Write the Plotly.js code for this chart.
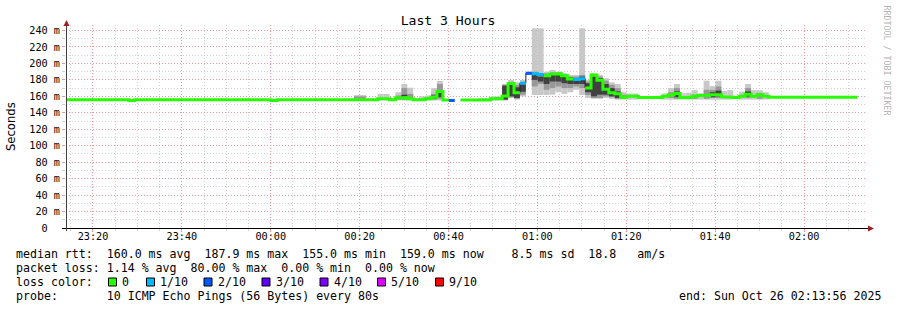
<!DOCTYPE html>
<html><head><meta charset="utf-8">
<script src="https://cdn.plot.ly/plotly-3.0.1.min.js"></script>
<style>html,body{margin:0;padding:0;background:#fff}#chart{width:897px;height:310px}</style>
</head><body><div id="chart"></div><script>
// ---- data (SmokePing, 80 s steps) ----
const firstStepStart = '2025-10-25 23:13:24';
const stepSeconds = 80;
const viewStart = '2025-10-25 23:13:56';
const viewEnd = '2025-10-26 02:13:56';

// median RTT per step (ms); null = no data
const median = [
  156,156,156,156,156,156,156,156,156,156,156,155,
  156,156,156,156,156,156,156,156,156,156,156,156,156,156,156,156,156,156,156,156,156,156,156,155,
  156,156,156,156,156,156,156,156,156,156,156,156,156,
  156,156,156,156,157,157,156,158,158.5,157,156,156,157,159,166,155.5,155,null,
  155.5,155.5,155.5,155.5,155.5,157,157,160.5,175.5,164.5,176,188,187.5,186.5,185,187,187.5,185,181,180.5,181.5,
  170,186,179.5,168.5,164.5,163,159,160,160,158.5,158.5,158.5,158.5,160,161.5,163.5,158.5,158.5,160,161,161,162,162,
  159.5,159,158.5,160,162.5,160,162,160,
  159,159,159,159,159,159,159,159,159,159,159,159,159,159,159,null,null
];
// lost pings (out of 10) per step
const lossTenths = median.map(() => 0);
const lossSteps = [65, 77, 78, 79, 80, 86, 87];
const lossValues = [2, 1, 2, 1, 1, 1, 1];
lossSteps.forEach((s, i) => { lossTenths[s] = lossValues[i]; });

// smoke (ping spread) per step: outer / middle / inner bands (ms)
const smokeSteps = [49,50,53,54,56,57,58,60,61,62,63,70,71,72,73,74,75,76,77,78,79,80,81,82,83,84,85,86,87,88,89,90,91,92,93,94,95,96,101,102,103,104,105,106,107,108,109,110,111,112,114,115,116,117,118];
const outerLo = [155,155,155,155,155,155,155,155,155,155,155,155,155,155,155,155,158,156,160,186,161.6,161.6,161.6,162,165,163,165,168,161.6,158,157,157,158,157,156,156,156,156,156,156,156,156,156,156,156,156,156,156,156,156,156,156,156,156,156];
const outerHi = [161.5,161.5,163,163,165,175,170.5,160,161,170,178.6,158,158,160,160,175,180,177,180,190,242.6,242.6,190,192,190,188,186,186,242.6,180,188,186,182,177,175,165,163.5,163.5,163.5,170,175,163.7,164.5,167.5,163.7,179,172.5,179,166.5,167.5,165.6,175,167.5,167.5,165];
const midLo = [157,157,155.5,155.5,156,156,156,null,156,156,157,null,null,155.5,156,155.5,159,157,162,187,172,175,168,170,172,170,170,172,170,161.6,158,158,160,159,157,157,null,null,null,158,157,null,null,157,null,157,158,158,null,null,null,158,null,157,null];
const midHi = [160,160,158,158,161,170,163,null,159,163,175,null,null,158,159,174,177,174,176,189,190,188,188,189,189,187,184,184,186,178,186,184,179,174,170,162,null,null,null,165,170,null,null,162,null,168,168,172,null,null,null,170,null,164,null];
const innerLo = [null,null,null,null,157,157,null,null,null,157,159,null,null,null,null,156,160,158,165.6,null,180,178,175,178,178,176,175,175,175,165,160,162,162,160,158,null,null,null,null,null,159,null,null,null,null,null,159,160,null,null,null,160,null,null,null];
const innerHi = [null,null,null,null,159,162,null,null,null,161,166,null,null,null,null,173,174,171,174.6,null,186,184,186,187,187,185,183,182,184,176,184,182,175,170,166,null,null,null,null,null,166,null,null,null,null,null,165,167,null,null,null,166,null,null,null];

const lossClasses = [0, 1, 2, 3, 4, 5, 9];
const lossLabels = ['0', '1/10', '2/10', '3/10', '4/10', '5/10', '9/10'];
const lossColors = ['#26ff00', '#00b8ff', '#0059ff', '#5e00ff', '#7e00ff', '#dd00ff', '#ff0000'];

const yTickVals = [0,20,40,60,80,100,120,140,160,180,200,220,240];
const yTickText = ['0\u00a0\u00a0','20 m','40 m','60 m','80 m','100 m','120 m','140 m','160 m','180 m','200 m','220 m','240 m'];

const titleText = 'Last 3 Hours';
const legendLines = [
  'median rtt:  160.0 ms avg  187.9 ms max  155.0 ms min  159.0 ms now    8.5 ms sd  18.8   am/s',
  'packet loss: 1.14 % avg  80.00 % max  0.00 % min  0.00 % now',
  'loss color:',
  'probe:       10 ICMP Echo Pings (56 Bytes) every 80s'
];
const endText = 'end: Sun Oct 26 02:13:56 2025';
const watermark = 'RRDTOOL / TOBI OETIKER';

// ---- build ----
const MONO = 'DejaVu Sans Mono';
const L = 66, R = 866, T = 25, B = 228;
const px2x = px => (px - L) / (R - L);
const px2y = py => (B - py) / (B - T);
const nb = s => s.replace(/ /g, '\u00a0');
const fmt = ms => new Date(ms).toISOString().slice(0, 19).replace('T', ' ');
const t0 = Date.parse(firstStepStart.replace(' ', 'T') + 'Z');
const stepMs = stepSeconds * 1000;
const stepStart = j => t0 + j * stepMs;

const traces = [];
function band(lo, hi, color) {
  const x = [], base = [], y = [];
  smokeSteps.forEach((s, i) => {
    if (lo[i] == null || hi[i] == null) return;
    x.push(fmt(stepStart(s) + stepMs / 2));
    base.push(lo[i]);
    y.push(hi[i] - lo[i]);
  });
  traces.push({type: 'bar', x, y, base, width: x.map(() => stepMs),
    marker: {color, line: {width: 0}}, hoverinfo: 'skip', showlegend: false});
}
band(outerLo, outerHi, '#c8c8c8');
band(midLo, midHi, '#989898');
band(innerLo, innerHi, '#404040');

// thin dark median step line (shows transitions)
{
  const x = median.map((_, j) => fmt(stepStart(j)));
  const y = median.slice();
  x.push(fmt(stepStart(median.length)));
  y.push(median[median.length - 1]);
  traces.push({type: 'scatter', mode: 'lines', x, y, line: {shape: 'hv', color: '#202020', width: 1},
    connectgaps: false, hoverinfo: 'skip', showlegend: false});
}
// coloured median per loss class
lossClasses.forEach((c, ci) => {
  const x = [], y = [];
  let prevSame = false;
  median.forEach((m, j) => {
    if (m != null && lossTenths[j] === c) {
      if (!prevSame && x.length) { x.push(null); y.push(null); }
      x.push(fmt(stepStart(j)), fmt(stepStart(j + 1)));
      y.push(m, m);
      prevSame = true;
    } else prevSame = false;
  });
  if (x.length) traces.push({type: 'scatter', mode: 'lines', x, y,
    line: {color: lossColors[ci], width: 3}, connectgaps: false, hoverinfo: 'skip', showlegend: false});
});

const shapes = [];
const annotations = [];
// axis lines & arrows
shapes.push({type: 'line', xref: 'paper', yref: 'paper', x0: px2x(62), x1: px2x(869), y0: px2y(228.5), y1: px2y(228.5), line: {color: '#000', width: 1}, layer: 'above'});
shapes.push({type: 'line', xref: 'paper', yref: 'paper', x0: px2x(66.5), x1: px2x(66.5), y0: px2y(231), y1: px2y(24), line: {color: '#404040', width: 1}, layer: 'above'});
shapes.push({type: 'path', xref: 'paper', yref: 'paper', layer: 'above', fillcolor: '#9b2020', line: {width: 0},
  path: `M ${px2x(63.5)} ${px2y(26)} L ${px2x(66.5)} ${px2y(20)} L ${px2x(69.5)} ${px2y(26)} Z`});
shapes.push({type: 'path', xref: 'paper', yref: 'paper', layer: 'above', fillcolor: '#9b2020', line: {width: 0},
  path: `M ${px2x(868)} ${px2y(225.5)} L ${px2x(874)} ${px2y(228.5)} L ${px2x(868)} ${px2y(231.5)} Z`});

// legend text
const lineY = [254, 268, 282, 296];
legendLines.forEach((t, i) => annotations.push({xref: 'paper', yref: 'paper', x: px2x(16), y: px2y(lineY[i]),
  xanchor: 'left', yanchor: 'middle', text: nb(t), showarrow: false, borderpad: 0, borderwidth: 0,
  font: {family: MONO, size: 11.6, color: '#000'}}));
annotations.push({xref: 'paper', yref: 'paper', x: px2x(881), y: px2y(296), xanchor: 'right', yanchor: 'middle',
  text: nb(endText), showarrow: false, borderpad: 0, borderwidth: 0, font: {family: MONO, size: 11.6, color: '#000'}});
// loss colour boxes
const boxX = [108, 146, 203.5, 261.5, 319.5, 377, 435];
lossClasses.forEach((c, i) => {
  shapes.push({type: 'rect', xref: 'paper', yref: 'paper', x0: px2x(boxX[i] + 0.5), x1: px2x(boxX[i] + 8.5),
    y0: px2y(278), y1: px2y(286), fillcolor: lossColors[i], line: {color: '#000', width: 1}});
  annotations.push({xref: 'paper', yref: 'paper', x: px2x(boxX[i] + 14), y: px2y(282), xanchor: 'left', yanchor: 'middle',
    text: lossLabels[i], showarrow: false, borderpad: 0, borderwidth: 0, font: {family: MONO, size: 11.6, color: '#000'}});
});
// y title
annotations.push({xref: 'paper', yref: 'paper', x: px2x(11), y: px2y(126), xanchor: 'center', yanchor: 'middle',
  text: 'Seconds', textangle: -90, showarrow: false, borderpad: 0, borderwidth: 0,
  font: {family: 'DejaVu Sans', size: 11.6, color: '#000'}});
// watermark
annotations.push({xref: 'paper', yref: 'paper', x: px2x(886.5), y: px2y(60), xanchor: 'center', yanchor: 'middle',
  text: nb(watermark), textangle: 90, showarrow: false, borderpad: 0, borderwidth: 0,
  font: {family: MONO, size: 8.3, color: '#b4b4b4'}});

const RED = '#ee9a9a', GRAY = '#d2d2d2';
const layout = {
  width: 897, height: 310, autosize: false,
  margin: {l: L, r: 897 - R, t: T, b: 310 - B, pad: 0},
  paper_bgcolor: '#fff', plot_bgcolor: '#fff',
  barmode: 'overlay', showlegend: false,
  title: {text: titleText, x: 448 / 897, xanchor: 'center', y: 1 - 20 / 310, yanchor: 'middle',
    font: {family: MONO, size: 13.1, color: '#000'}},
  xaxis: {type: 'date', range: [viewStart, viewEnd], tickformat: '%H:%M',
    tick0: '2025-10-25 23:20:00', dtick: 1200000, showline: false, zeroline: false,
    showgrid: true, gridcolor: RED, griddash: '1px,2px', gridwidth: 1,
    ticks: 'outside', ticklen: 3, tickcolor: RED, ticklabelstandoff: -4,
    tickfont: {family: MONO, size: 10.2, color: '#000'},
    minor: {tick0: '2025-10-25 23:20:00', dtick: 300000, showgrid: true, gridcolor: GRAY, griddash: '1px,2px',
      ticks: 'outside', ticklen: 2, tickcolor: GRAY},
    fixedrange: true},
  yaxis: {range: [0, 246.7], tickmode: 'array', tickvals: yTickVals, ticktext: yTickText,
    showline: false, zeroline: false, showgrid: true, gridcolor: RED, griddash: '1px,2px',
    ticks: 'outside', ticklen: 3, tickcolor: RED,
    tickfont: {family: MONO, size: 10.2, color: '#000'},
    minor: {dtick: 10, showgrid: true, gridcolor: GRAY, griddash: '1px,2px', ticks: 'outside', ticklen: 3, tickcolor: GRAY},
    fixedrange: true},
  shapes, annotations
};
Plotly.newPlot('chart', traces, layout, {staticPlot: true, displayModeBar: false});
</script></body></html>
